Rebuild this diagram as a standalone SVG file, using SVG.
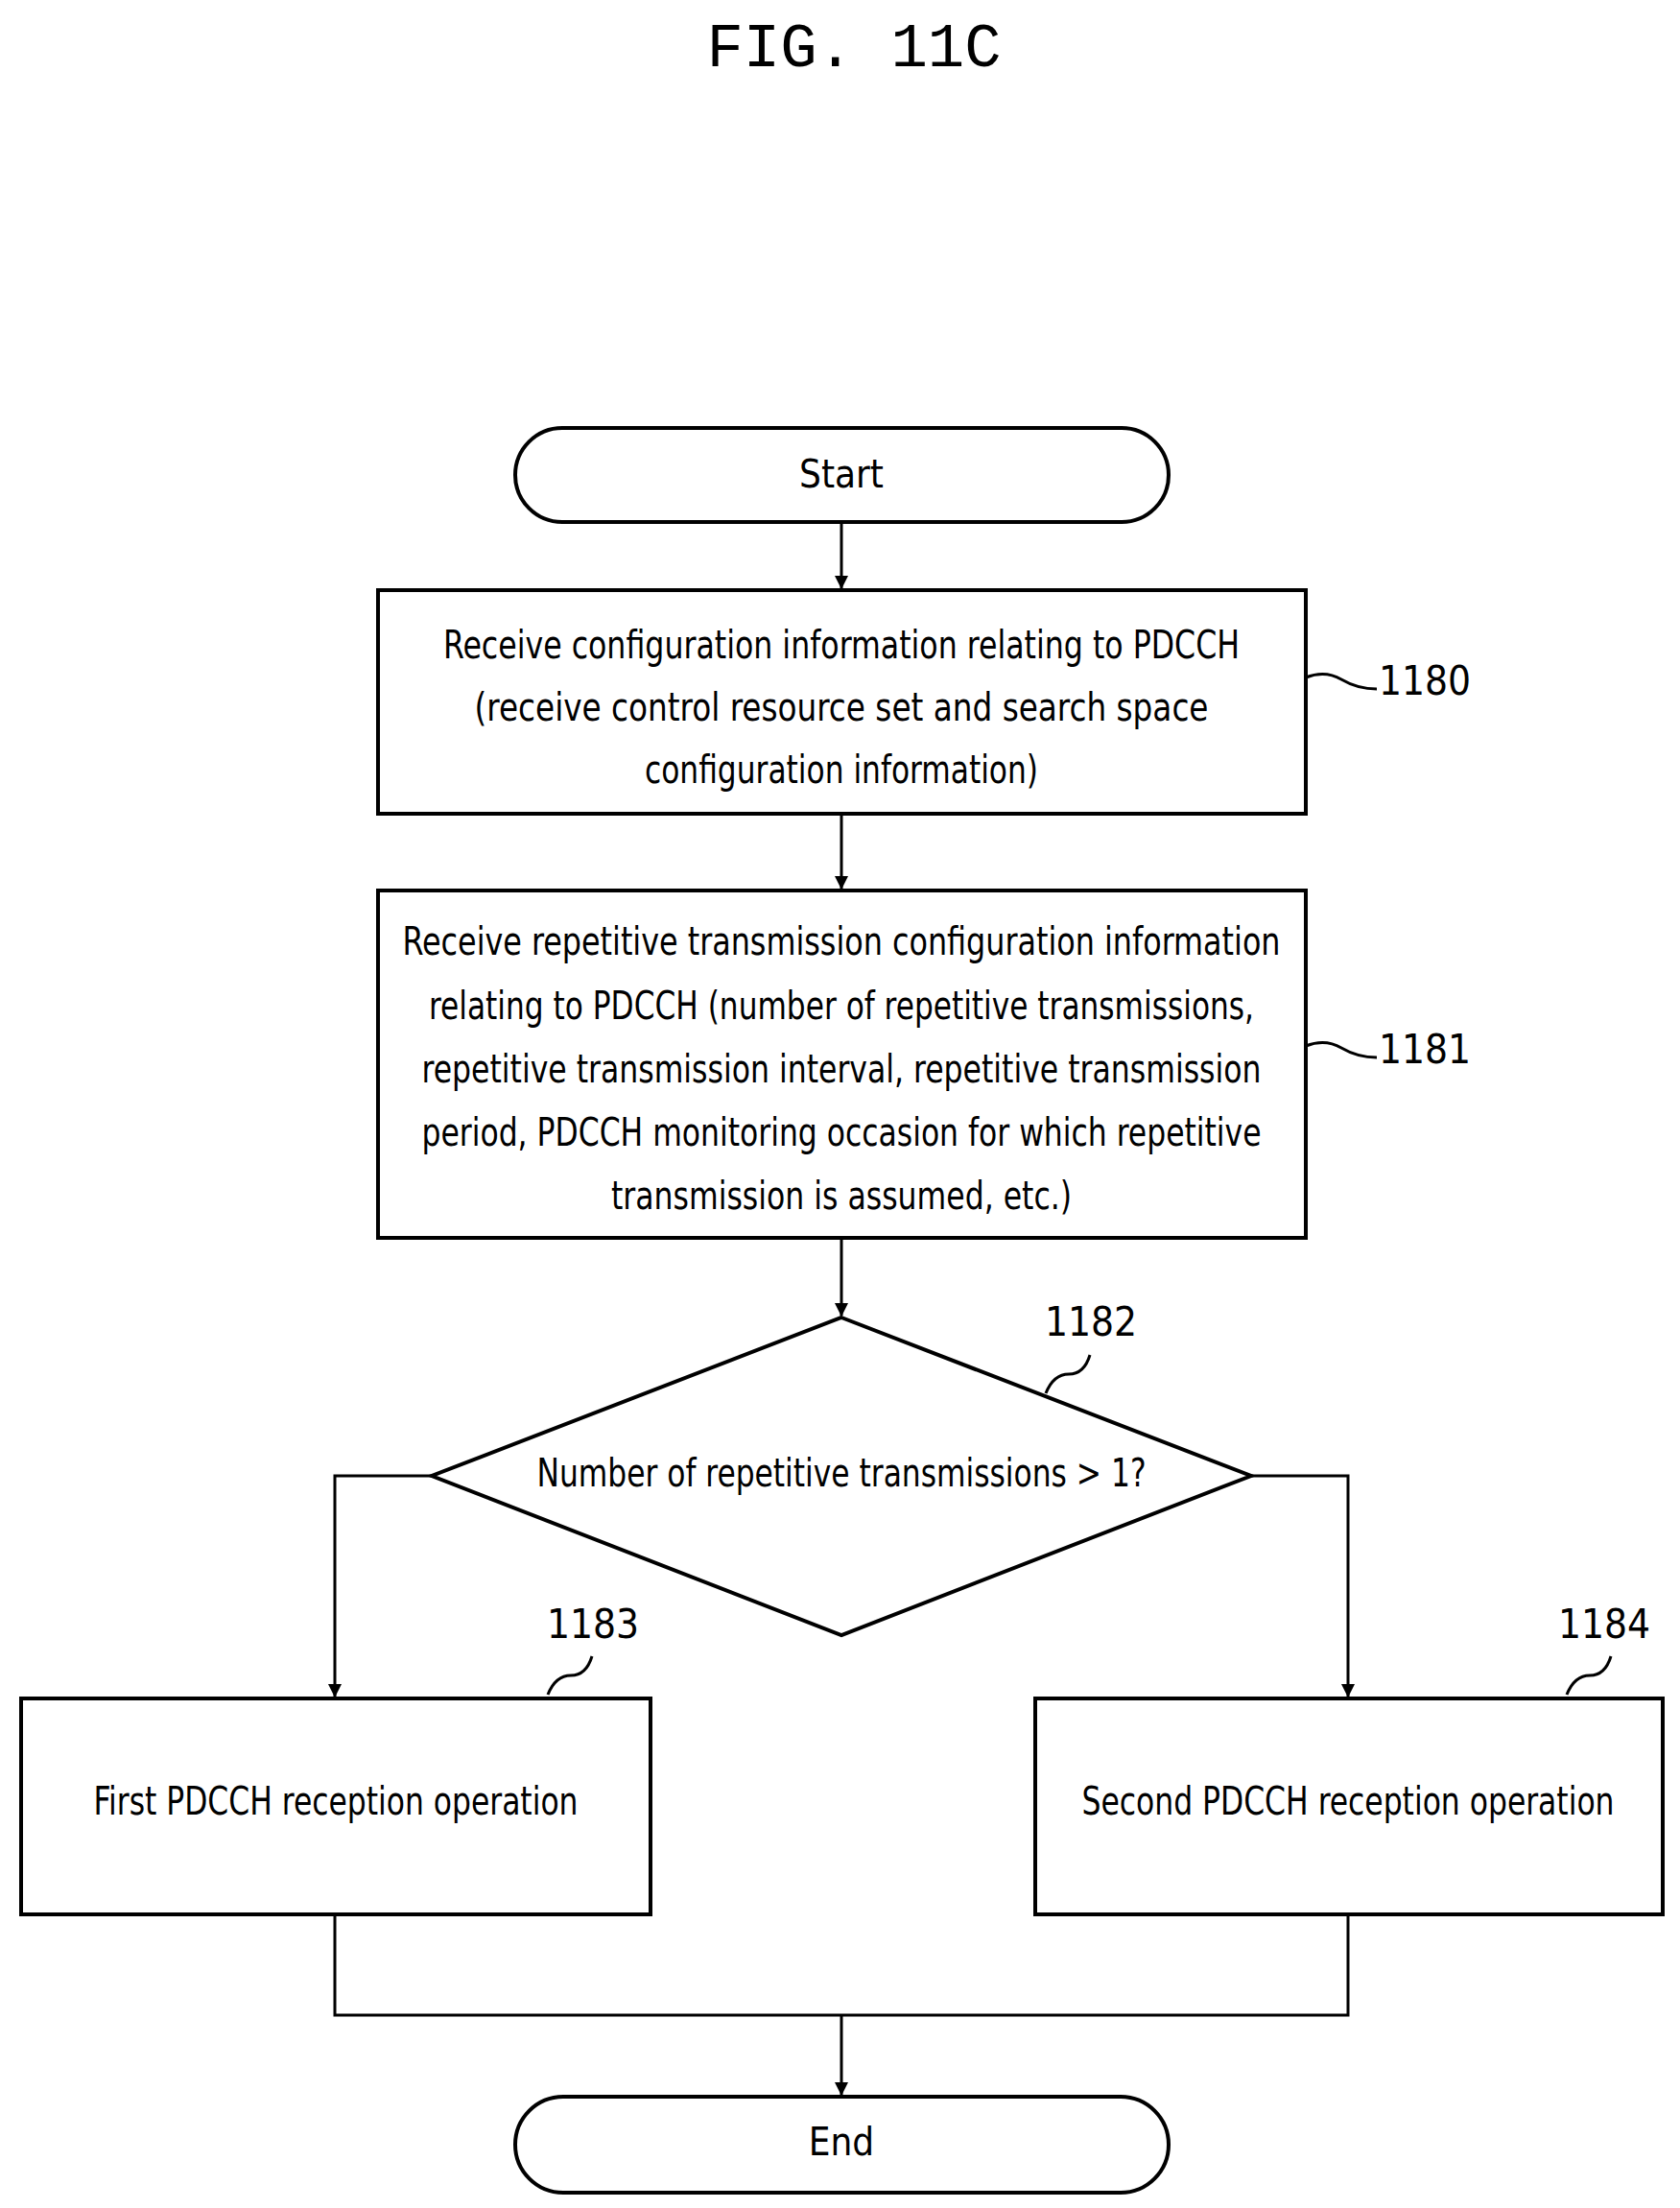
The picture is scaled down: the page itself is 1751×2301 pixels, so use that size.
<svg xmlns="http://www.w3.org/2000/svg" width="1751" height="2301" viewBox="0 0 1751 2301">
<style>
.s{fill:#fff;stroke:#000;stroke-width:4}
.c{fill:none;stroke:#000;stroke-width:3}
.t{font-family:"DejaVu Sans Condensed","Liberation Sans Narrow","Liberation Sans",sans-serif;font-size:40px;text-anchor:middle;dominant-baseline:middle}
.l{font-family:"DejaVu Sans Condensed","Liberation Sans",sans-serif;font-size:42px;text-anchor:middle;dominant-baseline:middle}
</style>
<defs><marker id="a" markerWidth="14" markerHeight="22" refX="13" refY="7" orient="auto" markerUnits="userSpaceOnUse" viewBox="0 0 14 14"><path d="M0,0L14,7L0,14z"/></marker></defs>
<text x="890" y="52" style="font-family:'Liberation Mono',monospace;font-size:64px;text-anchor:middle;dominant-baseline:middle">FIG. 11C</text>
<g id="connectors">
<path class="c" d="M877,544V613" marker-end="url(#a)"/>
<path class="c" d="M877,848V926" marker-end="url(#a)"/>
<path class="c" d="M877,1290V1371" marker-end="url(#a)"/>
<path class="c" d="M450,1538H349V1768" marker-end="url(#a)"/>
<path class="c" d="M1304,1538H1405V1768" marker-end="url(#a)"/>
<path class="c" d="M349,1995V2100H1405V1995"/>
<path class="c" d="M877,2100V2183" marker-end="url(#a)"/>
<path class="c" d="M1361,706q20,-8 37,2t37,10"/>
<path class="c" d="M1361,1090q20,-8 37,2t37,10"/>
<path class="c" d="M1090,1452q8,-20 24,-20t22,-20"/>
<path class="c" d="M571,1766q8,-20 24,-20t22,-20"/>
<path class="c" d="M1633,1766q8,-20 24,-20t22,-20"/>
</g>
<g id="start"><rect class="s" x="537" y="446" width="681" height="98" rx="49"/><text class="t" x="877" y="497">Start</text></g>
<g id="n1180"><rect class="s" x="394" y="615" width="967" height="233"/>
<text class="t" x="877" y="675" textLength="830" lengthAdjust="spacingAndGlyphs">Receive configuration information relating to PDCCH</text>
<text class="t" x="877" y="740" textLength="765" lengthAdjust="spacingAndGlyphs">(receive control resource set and search space</text>
<text class="t" x="877" y="805" textLength="410" lengthAdjust="spacingAndGlyphs">configuration information)</text>
<text class="l" x="1485" y="712">1180</text></g>
<g id="n1181"><rect class="s" x="394" y="928" width="967" height="362"/>
<text class="t" x="877" y="984" textLength="915" lengthAdjust="spacingAndGlyphs">Receive repetitive transmission configuration information</text>
<text class="t" x="877" y="1051" textLength="860" lengthAdjust="spacingAndGlyphs">relating to PDCCH (number of repetitive transmissions,</text>
<text class="t" x="877" y="1117" textLength="875" lengthAdjust="spacingAndGlyphs">repetitive transmission interval, repetitive transmission</text>
<text class="t" x="877" y="1183" textLength="875" lengthAdjust="spacingAndGlyphs">period, PDCCH monitoring occasion for which repetitive</text>
<text class="t" x="877" y="1249" textLength="480" lengthAdjust="spacingAndGlyphs">transmission is assumed, etc.)</text>
<text class="l" x="1485" y="1096">1181</text></g>
<g id="n1182"><path class="s" d="M877,1373L1304,1538L877,1704L450,1538z"/>
<text class="t" x="877" y="1538" textLength="635" lengthAdjust="spacingAndGlyphs">Number of repetitive transmissions &gt; 1?</text>
<text class="l" x="1137" y="1380">1182</text></g>
<g id="n1183"><rect class="s" x="22" y="1770" width="656" height="225"/>
<text class="t" x="350" y="1880" textLength="505" lengthAdjust="spacingAndGlyphs">First PDCCH reception operation</text>
<text class="l" x="618" y="1695">1183</text></g>
<g id="n1184"><rect class="s" x="1079" y="1770" width="654" height="225"/>
<text class="t" x="1405" y="1880" textLength="555" lengthAdjust="spacingAndGlyphs">Second PDCCH reception operation</text>
<text class="l" x="1672" y="1695">1184</text></g>
<g id="end"><rect class="s" x="537" y="2185" width="681" height="100" rx="50"/><text class="t" x="877" y="2235">End</text></g>
</svg>
